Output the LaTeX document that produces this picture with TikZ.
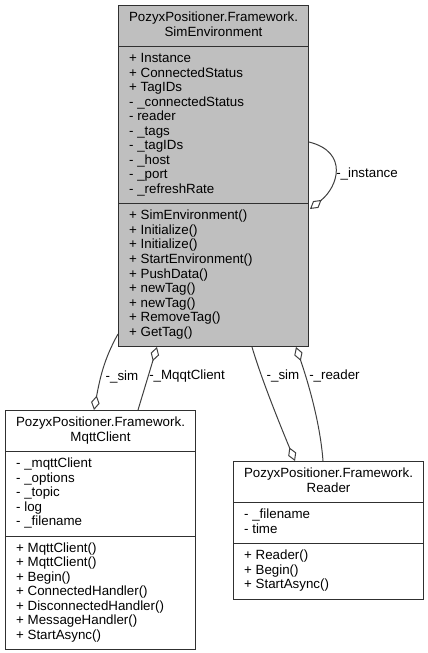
\documentclass[tikz,border=0pt]{standalone}
\usepackage{fontspec}
\setmainfont{Liberation Sans}
\usetikzlibrary{
  arrows.meta,
  shapes.multipart,
  calc
}
\usepackage{xcolor}
\definecolor{classGray}{RGB}{191,191,191}
\definecolor{edgeGray}{RGB}{64,64,64}
\definecolor{borderGray}{RGB}{48,48,48}
\newcommand{\classTitle}[1]{\begin{tabular}{@{}c@{}}#1\end{tabular}}
\newcommand{\memberList}[1]{\begin{tabular}{@{\hspace{6pt}}l@{}}#1\end{tabular}}
\tikzset{
  classBox/.style={
    rectangle split,
    rectangle split parts=3,
    rectangle split part align={center,left,left},
    draw=borderGray,
    line width=0.75pt,
    minimum width=142.5pt,
    inner xsep=2pt,
    inner ysep=4.1pt,
    fill=white,
    font=\fontsize{10pt}{10.9pt}\selectfont,
    anchor=north west
  }
}
\tikzset{
  aggr/.style={
    draw=edgeGray,
    line width=0.75pt,
    -{Diamond[open, length=11pt, width=6.5pt]}
  }
}
\tikzset{
  edgeLabel/.style={
    font=\fontsize{10pt}{10.9pt}\selectfont,
    inner sep=0pt
  }
}

\begin{document}
\begin{tikzpicture}[x=0.75pt, y=-0.75pt]
    \useasboundingbox (0,0) rectangle (428,653);

    \node[classBox, fill=classGray] (sim) at (118,5)
      {\classTitle{PozyxPositioner.Framework.\\SimEnvironment}
       \nodepart{two}\memberList{+ Instance\\+ ConnectedStatus\\+ TagIDs\\- \_connectedStatus\\- reader\\- \_tags\\- \_tagIDs\\- \_host\\- \_port\\- \_refreshRate}
       \nodepart{three}\memberList{+ SimEnvironment()\\+ Initialize()\\+ Initialize()\\+ StartEnvironment()\\+ PushData()\\+ newTag()\\+ newTag()\\+ RemoveTag()\\+ GetTag()}};

    \node[classBox] (mqtt) at (5,410)
      {\classTitle{PozyxPositioner.Framework.\\MqttClient}
       \nodepart{two}\memberList{- \_mqttClient\\- \_options\\- \_topic\\- log\\- \_filename}
       \nodepart{three}\memberList{+ MqttClient()\\+ MqttClient()\\+ Begin()\\+ ConnectedHandler()\\+ DisconnectedHandler()\\+ MessageHandler()\\+ StartAsync()}};

    \node[classBox] (reader) at (233,461)
      {\classTitle{PozyxPositioner.Framework.\\Reader}
       \nodepart{two}\memberList{- \_filename\\- time}
       \nodepart{three}\memberList{+ Reader()\\+ Begin()\\+ StartAsync()}};

    % aggregations
    \draw[aggr] ($(sim.north east)+(0,137)$) .. controls +(40,10) and +(28,-22)
      .. ($(sim.north east)+(1,204)$);
    \draw[aggr] ($(sim.south west)+(0,-13)$) .. controls +(-14,25) and +(6,-32)
      .. ($(mqtt.north west)+(89,0)$);
    \draw[aggr] ($(mqtt.north west)+(133,0)$) -- ($(sim.south west)+(39,0)$);
    \draw[aggr] ($(sim.south west)+(134,0)$) .. controls +(10,34) and +(-12,-29)
      .. ($(reader.north west)+(62,0)$);
    \draw[aggr] ($(reader.north west)+(90,0)$) .. controls +(-3,-41) and +(10,29)
      .. ($(sim.south west)+(178,0)$);

    \node[edgeLabel, anchor=west] (lInstance) at (336,174) {-\_instance};
    \node[edgeLabel] (lSimMqtt) at (122,377) {-\_sim};
    \node[edgeLabel, anchor=west] (lMqqt) at (149,376) {-\_MqqtClient};
    \node[edgeLabel] (lSimReader) at (283,376) {-\_sim};
    \node[edgeLabel, anchor=west] (lReader) at (309,376) {-\_reader};
\end{tikzpicture}
\end{document}
